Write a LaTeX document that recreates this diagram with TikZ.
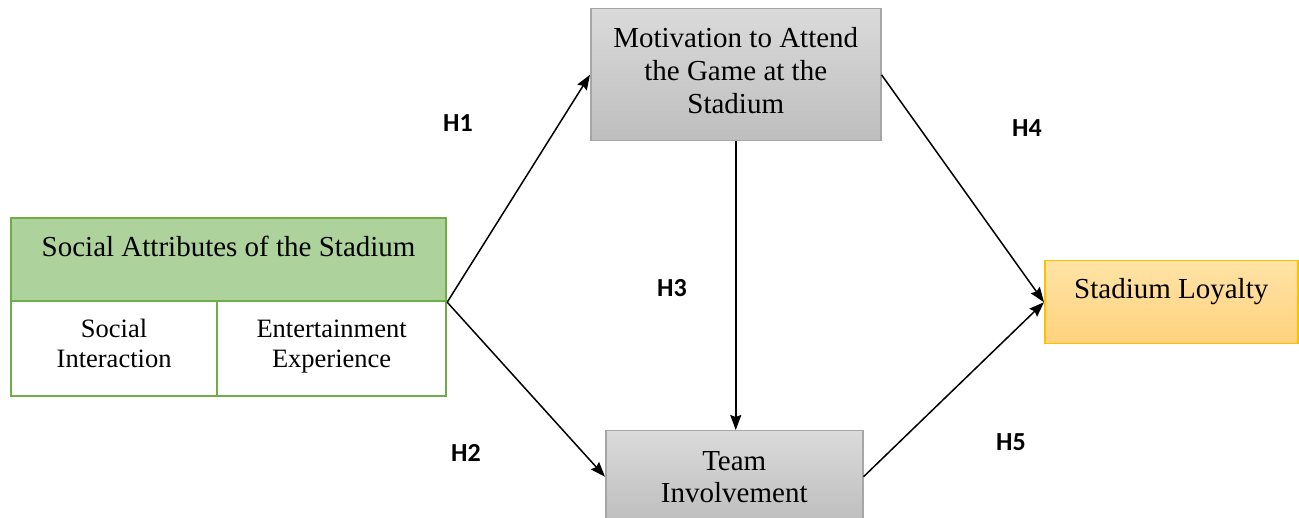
\documentclass[tikz,border=0pt]{standalone}
\usepackage{fontspec}
\setmainfont{Liberation Serif}
\newfontfamily\hypfont{Carlito}
\usetikzlibrary{arrows.meta}

\definecolor{greenfill}{RGB}{174,210,156}
\definecolor{greenline}{RGB}{112,173,71}
\definecolor{greytop}{RGB}{218,218,218}
\definecolor{greybot}{RGB}{190,190,190}
\definecolor{greyline}{RGB}{166,166,166}
\definecolor{orangetop}{RGB}{255,227,166}
\definecolor{orangebot}{RGB}{255,210,125}
\definecolor{orangeline}{RGB}{255,192,0}

\begin{document}
\begin{tikzpicture}[x=1pt, y=-1pt]
			% Define styles
			\tikzstyle{mainbox} = [rectangle, anchor=north west, text centered, align=center, font=\fontsize{29pt}{33pt}\selectfont]
			\tikzstyle{topline} = [inner ysep=0pt, text height=38pt, text depth=45pt]
			\tikzstyle{greenbox} = [mainbox, draw=greenline, line width=2.2pt, fill=greenfill]
			\tikzstyle{subbox} = [mainbox, draw=greenline, line width=2.2pt, fill=white, text depth=10pt, font=\fontsize{26.5pt}{30pt}\selectfont]
			\tikzstyle{greybox} = [mainbox, draw=greyline, line width=1.5pt, top color=greytop, bottom color=greybot]
			\tikzstyle{orangebox} = [mainbox, draw=orangeline, line width=1.5pt, top color=orangetop, bottom color=orangebot]
			\tikzstyle{hyp} = [font=\hypfont\bfseries\fontsize{26pt}{30pt}\selectfont]
			\tikzstyle{arrow} = [line width=1.5pt, -{Stealth[length=15pt, width=11pt, inset=2pt]}]
			
			\useasboundingbox (0,0) rectangle (1299,518);
			\clip (0,0) rectangle (1299,518);
			
			% Nodes
			\node (social) [greenbox, topline, minimum width=435pt, minimum height=83pt] at (10,217) {Social Attributes of the Stadium};
			\node (socint) [subbox, minimum width=206pt, minimum height=95pt] at (10,300) {Social\\Interaction};
			\node (entexp) [subbox, minimum width=229pt, minimum height=95pt] at (216,300) {Entertainment\\Experience};
			\node (motiv) [greybox, text depth=8pt, minimum width=290pt, minimum height=132pt] at (590,8) {Motivation to Attend\\the Game at the\\Stadium};
			\node (team) [greybox, minimum width=257pt, minimum height=92pt, font=\fontsize{29pt}{32pt}\selectfont] at (605,430) {Team\\Involvement};
			\node (loyal) [orangebox, topline, minimum width=253pt, minimum height=83pt] at (1044,260) {Stadium Loyalty};
			
			% Hypotheses
			\node (h1) [hyp] at (458,123) {H1};
			\node (h2) [hyp] at (466,453) {H2};
			\node (h3) [hyp] at (672,288) {H3};
			\node (h4) [hyp] at (1027,128) {H4};
			\node (h5) [hyp] at (1011,442) {H5};
			
			% Arrows
			\draw [arrow] (social.south east) -- (motiv.west);
			\draw [arrow] (social.south east) -- (team.west);
			\draw [arrow] (motiv.south) -- (motiv.south |- team.north);
			\draw [arrow] (motiv.east) -- (loyal.west);
			\draw [arrow] (team.east) -- (loyal.west);
		\end{tikzpicture}
\end{document}
